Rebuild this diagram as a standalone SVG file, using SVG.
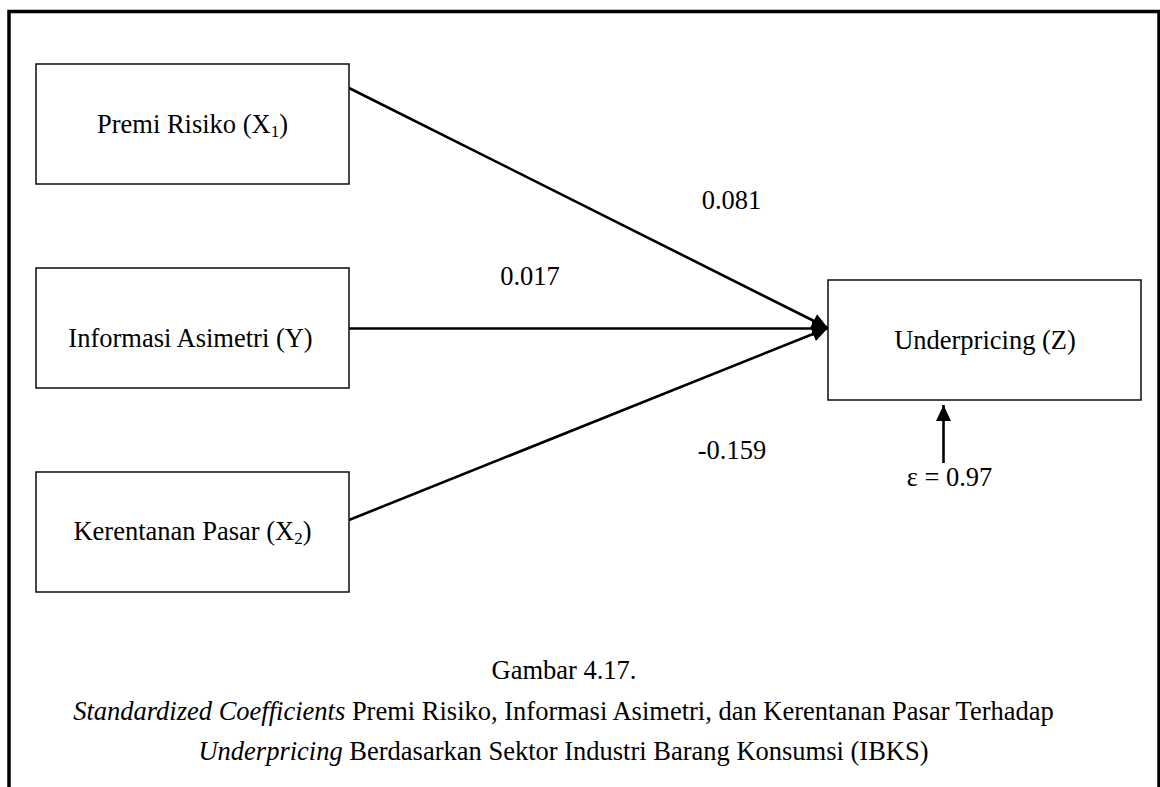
<svg xmlns="http://www.w3.org/2000/svg" width="1160" height="787" viewBox="0 0 1160 787">
  <style>
    .frame { fill: none; stroke: #000; stroke-width: 3.5; }
    .box { fill: #fff; stroke: #1a1a1a; stroke-width: 1.6; }
    .lbl { font-family: "Liberation Serif", "Times New Roman", serif; font-size: 26.5px; fill: #000; }
    .mid { text-anchor: middle; }
    .edge { stroke: #000; stroke-width: 2.6; fill: none; }
    .sub { font-size: 17px; }
  </style>
  <defs>
    <marker id="arrow" markerUnits="userSpaceOnUse" markerWidth="18" markerHeight="18" viewBox="0 0 18 18" refX="16.5" refY="9" orient="auto">
      <path d="M0.5,1.5 L16.5,9 L0.5,16.5 Z" fill="#000"/>
    </marker>
  </defs>

  <rect width="1160" height="787" fill="#fff"/>
  <!-- outer frame, open at the bottom -->
  <path class="frame" d="M9,787 L9,11.5 L1159,11.5 L1159,787"/>

  <!-- connectors -->
  <g id="connectors">
    <line class="edge" x1="349" y1="88" x2="828" y2="328" marker-end="url(#arrow)"/>
    <line class="edge" x1="349" y1="328.5" x2="828" y2="328.5" marker-end="url(#arrow)"/>
    <line class="edge" x1="349" y1="520" x2="828" y2="328" marker-end="url(#arrow)"/>
    <line class="edge" x1="943.5" y1="463" x2="943.5" y2="405" marker-end="url(#arrow)"/>
  </g>

  <g id="node-x1">
    <rect class="box" x="36" y="64" width="313" height="120"/>
    <text class="lbl mid" x="192.5" y="133">Premi Risiko (X<tspan class="sub" dy="4">1</tspan><tspan dy="-4">)</tspan></text>
  </g>
  <g id="node-y">
    <rect class="box" x="36" y="268" width="313" height="120"/>
    <text class="lbl mid" x="190.5" y="347">Informasi Asimetri (Y)</text>
  </g>
  <g id="node-x2">
    <rect class="box" x="36" y="472" width="313" height="120"/>
    <text class="lbl mid" x="192.5" y="540">Kerentanan Pasar (X<tspan class="sub" dy="4">2</tspan><tspan dy="-4">)</tspan></text>
  </g>
  <g id="node-z">
    <rect class="box" x="828" y="280" width="313" height="120"/>
    <text class="lbl mid" x="985" y="349">Underpricing (Z)</text>
  </g>

  <!-- path coefficients -->
  <g id="coefficients">
    <text class="lbl mid" x="731.5" y="209">0.081</text>
    <text class="lbl mid" x="530" y="285">0.017</text>
    <text class="lbl mid" x="732" y="459">-0.159</text>
    <text class="lbl mid" x="949.5" y="486">ε = 0.97</text>
  </g>

  <!-- caption -->
  <g id="caption">
    <text class="lbl mid" x="564" y="679">Gambar 4.17.</text>
    <text class="lbl mid" x="563.5" y="720"><tspan font-style="italic">Standardized Coefficients</tspan> Premi Risiko, Informasi Asimetri, dan Kerentanan Pasar Terhadap</text>
    <text class="lbl mid" x="563.5" y="760"><tspan font-style="italic">Underpricing</tspan> Berdasarkan Sektor Industri Barang Konsumsi (IBKS)</text>
  </g>
</svg>
